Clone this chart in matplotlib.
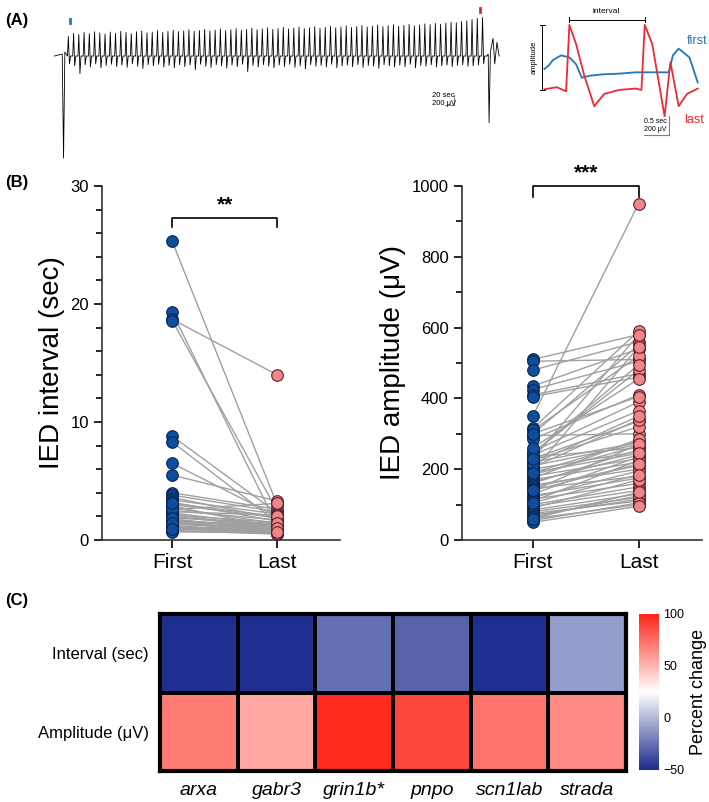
import matplotlib
matplotlib.use("Agg")
import matplotlib.pyplot as plt
import numpy as np
from matplotlib.colors import LinearSegmentedColormap

plt.rcParams['font.family'] = ['Liberation Sans', 'DejaVu Sans']

# ---------------- data ----------------
interval_first = [25.3,19.3,18.7,18.6,8.8,8.3,6.5,5.5,4.0,3.8,3.6,3.4,3.2,3.0,2.9,2.7,2.5,2.4,2.3,2.2,
                  2.1,2.0,1.9,1.8,1.7,1.6,1.5,1.5,1.4,1.3,1.2,1.2,1.1,1.0,1.0,0.9,0.8,0.8,0.7,1.6,
                  2.6,3.1,1.9,1.4,0.9]
interval_last = [3.0,1.2,14.0,2.5,2.3,1.5,2.0,3.3,2.6,2.4,1.8,2.2,1.6,1.9,1.0,1.4,1.7,2.1,1.2,0.9,
                 1.5,1.1,1.3,0.8,1.0,0.7,1.2,0.6,0.9,1.1,0.8,0.5,0.7,1.0,0.6,0.9,0.5,0.8,0.6,1.3,
                 3.1,2.0,1.4,1.0,0.7]
amp_first = [510,505,480,435,425,410,405,350,315,310,300,295,285,250,245,240,235,230,225,220,
             210,205,200,195,190,185,180,175,170,165,160,155,150,145,140,130,125,120,115,110,
             100,95,90,85,80,75,70,65,60,55,50,245,215,300,260,190,140,105,60,230]
amp_last = [580,510,560,540,505,470,460,950,590,520,550,300,410,390,480,365,260,335,320,275,
            270,340,250,545,280,265,230,285,220,240,255,200,210,180,270,235,175,195,160,225,
            150,140,170,130,120,110,115,125,100,105,95,495,350,405,455,245,215,185,135,580]

genes = ['arxa', 'gabr3', 'grin1b*', 'pnpo', 'scn1lab', 'strada']
rows = ['Interval (sec)', 'Amplitude (\u03bcV)']
pct_interval = [-48, -48, -25, -30, -48, -10]
pct_amplitude = [70, 55, 98, 88, 72, 65]

# EEG trace: spike tops / bottoms (relative units)
spike_tops = [0.50,0.58,0.55,0.60,0.57,0.62,0.59,0.56,0.61,0.58,0.63,0.60,0.57,0.62,0.64,0.59,0.61,0.65,0.60,0.63,
              0.66,0.62,0.64,0.67,0.63,0.65,0.68,0.64,0.66,0.69,0.65,0.67,0.70,0.66,0.68,0.71,0.67,0.69,0.72,0.68,
              0.70,0.73,0.69,0.71,0.74,0.70,0.72,0.75,0.71,0.73,0.76,0.72,0.74,0.77,0.73,0.75,0.78,0.74,0.76,0.79,
              0.75,0.77,0.80,0.76,0.78,0.81,0.77,0.79,0.82,0.80,0.83,0.81,0.84,0.86,0.85,0.88,0.90,0.93,0.96,0.98]
spike_bots = [-0.20,-0.25,-0.45,-0.22,-0.28,-0.20,-0.30,-0.24,-0.21,-0.27,-0.23,-0.29,-0.20,-0.26,-0.32,-0.22,-0.25,-0.21,-0.28,-0.24,
              -0.30,-0.22,-0.27,-0.23,-0.35,-0.21,-0.26,-0.29,-0.22,-0.25,-0.31,-0.23,-0.27,-0.21,-0.40,-0.24,-0.28,-0.22,-0.26,-0.30,
              -0.23,-0.27,-0.21,-0.29,-0.25,-0.33,-0.22,-0.26,-0.24,-0.28,-0.21,-0.30,-0.25,-0.23,-0.27,-0.22,-0.29,-0.24,-0.26,-0.31,
              -0.22,-0.25,-0.28,-0.23,-0.27,-0.21,-0.30,-0.24,-0.26,-0.22,-0.28,-0.25,-0.23,-0.27,-0.24,-0.22,-0.26,-0.25,-0.23,-0.20]

# IED waveforms (inset)
first_t = [0.0,0.05,0.1,0.2,0.3,0.38,0.45,0.55,0.7,0.9,1.1,1.3,1.5,1.55,1.62,1.75,1.85]
first_v = [0.35,0.40,0.48,0.55,0.52,0.42,0.22,0.25,0.27,0.28,0.30,0.30,0.30,0.55,0.65,0.52,0.15]
last_t = [0.0,0.15,0.22,0.26,0.3,0.38,0.48,0.6,0.72,0.9,1.1,1.17,1.21,1.3,1.45,1.52,1.62,1.72,1.85]
last_v = [0.05,0.08,0.04,0.02,1.0,0.72,0.25,-0.2,-0.02,0.04,0.06,0.04,1.0,0.72,-0.35,0.45,-0.2,-0.02,0.06]

blue = '#0d4f9e'; blue_e = '#0a2550'
pink = '#f28585'; pink_e = '#5c2030'

fig = plt.figure(figsize=(7.09, 8.02), dpi=100)

def fx(px): return px / 709
def fy(py): return 1 - py / 802

# ---------------- Panel A trace ----------------
axA = fig.add_axes([fx(50), fy(162), fx(450), fy(5) - fy(162)])
n = len(spike_tops)
ts, vs = [-3.0, -1.2, -0.9, -0.6, 0.0], [0.0, 0.05, -2.6, 0.1, 0.0]
for i in range(n):
    t0 = i * 1.2
    ts += [t0 + 0.2, t0 + 0.45, t0 + 0.7, t0 + 1.2]
    vs += [spike_tops[i], spike_bots[i], 0.0, 0.0]
te = n * 1.2
ts += [te + 0.3, te + 0.5, te + 0.8, te + 1.4, te + 1.8, te + 2.3, te + 2.8]
vs += [0.05, -1.7, 0.1, 0.45, -0.2, 0.35, 0.0]
axA.plot(ts, vs, color='black', lw=0.6)
axA.set_xlim(-4, te + 3)
axA.set_ylim(-2.7, 1.3)
axA.axis('off')
axA.plot([0.6, 0.6], [0.85, 0.95], color='#1f77c8', lw=2)
axA.plot([te - 1.5, te - 1.5], [1.12, 1.22], color='#e8202a', lw=2)
axA.plot([te - 9.5, te - 7.5], [-1.25, -1.25], color='gray', lw=0.8)
axA.plot([te - 7.5, te - 7.5], [-1.25, -1.0], color='gray', lw=0.8)
axA.text(te - 12.5, -1.1, '20 sec\n200 \u03bcV', fontsize=5.5, va='center')

# ---------------- inset ----------------
axI = fig.add_axes([fx(528), fy(140), fx(178), fy(8) - fy(140)])
axI.plot(first_t, first_v, color='#1f78c0', lw=1.3)
axI.plot(last_t, last_v, color='#ee2b33', lw=1.3)
axI.plot([-0.03, -0.03], [0.04, 1.0], color='black', lw=0.7)
axI.plot([-0.06, 0.0], [1.0, 1.0], color='black', lw=0.7)
axI.plot([-0.06, 0.0], [0.04, 0.04], color='black', lw=0.7)
axI.text(-0.12, 0.52, 'amplitude', rotation=90, fontsize=5.5, ha='center', va='center')
axI.plot([0.3, 1.21], [1.08, 1.08], color='black', lw=0.7)
axI.plot([0.3, 0.3], [1.04, 1.12], color='black', lw=0.7)
axI.plot([1.21, 1.21], [1.04, 1.12], color='black', lw=0.7)
axI.text(0.75, 1.14, 'interval', fontsize=6, ha='center', va='bottom')
axI.text(1.72, 0.72, 'first', color='#1f78c0', fontsize=9)
axI.text(1.68, -0.45, 'last', color='#ee2b33', fontsize=9)
axI.plot([1.2, 1.5], [-0.62, -0.62], color='gray', lw=0.8)
axI.plot([1.5, 1.5], [-0.62, -0.35], color='gray', lw=0.8)
axI.text(1.2, -0.48, '0.5 sec\n200 \u03bcV', fontsize=5, va='center')
axI.set_xlim(-0.2, 1.95)
axI.set_ylim(-0.7, 1.25)
axI.axis('off')

# ---------------- Panel B ----------------
def paired(ax, a, b, ymax, major, minor, ylabel, star, bar_lo, bar_hi):
    for y0, y1 in zip(a, b):
        ax.plot([0, 1], [y0, y1], color='#a0a0a0', lw=1.0, zorder=1)
    ax.scatter([0] * len(a), a, s=70, color=blue, edgecolor=blue_e, lw=0.8, zorder=3)
    ax.scatter([1] * len(b), b, s=70, color=pink, edgecolor=pink_e, lw=0.8, zorder=3)
    ax.set_xlim(-0.67, 1.6)
    ax.set_ylim(0, ymax)
    ax.set_yticks(np.arange(0, ymax + 1e-9, major))
    ax.set_yticks(np.arange(0, ymax + 1e-9, minor), minor=True)
    ax.set_xticks([0, 1])
    ax.set_xticklabels(['First', 'Last'], fontsize=15)
    ax.tick_params(axis='y', labelsize=12, width=1.2, length=6)
    ax.tick_params(axis='y', which='minor', width=1.2, length=4)
    ax.tick_params(axis='x', width=1.2, length=6)
    for s in ['top', 'right']:
        ax.spines[s].set_visible(False)
    for s in ['left', 'bottom']:
        ax.spines[s].set_linewidth(1.2)
        ax.spines[s].set_color('#333333')
    ax.set_ylabel(ylabel, fontsize=20)
    ax.plot([0, 0, 1, 1], [bar_lo, bar_hi, bar_hi, bar_lo], color='black', lw=1.2, clip_on=False)
    ax.text(0.5, bar_hi + 0.01 * ymax, star, ha='center', va='bottom', fontsize=15, fontweight='bold')

axB1 = fig.add_axes([fx(102), fy(540), fx(238), fy(186) - fy(540)])
paired(axB1, interval_first, interval_last, 30, 10, 2, 'IED interval (sec)', '**', 26.5, 27.3)
axB2 = fig.add_axes([fx(462), fy(540), fx(240), fy(186) - fy(540)])
paired(axB2, amp_first, amp_last, 1000, 200, 100, 'IED amplitude (\u03bcV)', '***', 970, 1000)

# ---------------- Panel C ----------------
cmap = LinearSegmentedColormap.from_list('bwr2', ['#1a2a8c', '#ffffff', '#ff2418'])
axC = fig.add_axes([fx(160), fy(771), fx(466), fy(614) - fy(771)])
data = np.array([pct_interval, pct_amplitude])
mesh = axC.pcolormesh(data, cmap=cmap, vmin=-50, vmax=100, edgecolors='black', linewidth=1.5)
axC.set_ylim(2, 0)
axC.set_xticks(np.arange(len(genes)) + 0.5)
axC.set_xticklabels(genes, fontsize=14, style='italic')
axC.set_yticks([0.5, 1.5])
axC.set_yticklabels(rows, fontsize=12)
axC.tick_params(length=0, pad=8)
for s in axC.spines.values():
    s.set_linewidth(3)
cax = fig.add_axes([fx(639), fy(770), fx(20), fy(614) - fy(770)])
cb = fig.colorbar(mesh, cax=cax, ticks=[-50, 0, 50, 100])
cb.outline.set_visible(False)
cb.ax.tick_params(length=0, labelsize=9, pad=3)
cb.set_label('Percent change', fontsize=13)

# panel labels
fig.text(fx(5), fy(20), '(A)', fontsize=12, fontweight='bold', va='center')
fig.text(fx(5), fy(183), '(B)', fontsize=12, fontweight='bold', va='center')
fig.text(fx(5), fy(600), '(C)', fontsize=12, fontweight='bold', va='center')

fig.savefig('out.png', dpi=100)
